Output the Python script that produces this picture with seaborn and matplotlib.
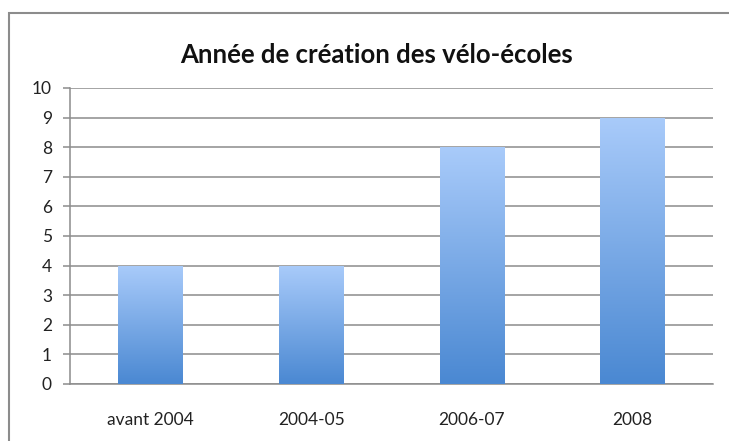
import numpy as np
import pandas as pd
import matplotlib
matplotlib.use("Agg")
import matplotlib.pyplot as plt
import matplotlib.patches as mpatches
from matplotlib.colors import LinearSegmentedColormap
import seaborn as sns

categories = ["avant 2004", "2004-05", "2006-07", "2008"]
counts = [4, 4, 8, 9]
title = "Année de création des vélo-écoles"

df = pd.DataFrame({"periode": categories, "nombre": counts})

sns.set_theme(style="white")
plt.rcParams["font.family"] = ["Lato", "DejaVu Sans"]

fig = plt.figure(figsize=(7.29, 4.41), dpi=100)
ax = fig.add_axes([70 / 729, 1 - 384 / 441, (713 - 70) / 729, (384 - 88) / 441])

sns.barplot(data=df, x="periode", y="nombre", ax=ax, width=0.4, color="#6aa0e0")

# gradient fill for each bar
cmap = LinearSegmentedColormap.from_list("grad", ["#4a88d2", "#a9cbfa"])
grad = np.linspace(0, 1, 256).reshape(-1, 1)
for bar in ax.patches:
    x0, y0 = bar.get_x(), bar.get_y()
    w, h = bar.get_width(), bar.get_height()
    im = ax.imshow(grad, cmap=cmap, origin="lower", aspect="auto",
                   extent=[x0, x0 + w, y0, y0 + h], zorder=3)
    im.set_clip_path(bar)
    bar.set_alpha(0)

ax.set_xlim(-0.5, 3.5)
ax.set_ylim(0, 10)
ax.set_yticks(range(0, 11))
ax.yaxis.grid(True, color="#8c8c8c", linewidth=1.1)
ax.set_axisbelow(True)
ax.set_xlabel("")
ax.set_ylabel("")

for s in ["top", "right"]:
    ax.spines[s].set_visible(False)
for s in ["left", "bottom"]:
    ax.spines[s].set_color("#8c8c8c")
    ax.spines[s].set_linewidth(1.1)

ax.set_xticks(np.arange(-0.5, 4, 1), minor=True)
ax.tick_params(axis="x", which="major", length=0, pad=20, labelsize=12.5, colors="#222222")
ax.tick_params(axis="x", which="minor", length=5, width=1.1, color="#8c8c8c", direction="out")
ax.tick_params(axis="y", length=5, width=1.1, color="#8c8c8c", direction="out",
               labelsize=12.5, labelcolor="#222222", pad=8)
ax.tick_params(axis="both", bottom=True, left=True)
ax.tick_params(axis="x", which="major", bottom=False)

fig.text(377 / 729, 1 - 55 / 441, title, ha="center", va="center",
         fontsize=18.5, fontweight="bold", color="#111111")

# outer chart frame (runs off the right and bottom edges)
frame = mpatches.Rectangle((9 / 729, -0.05), 1.1, 1 - 13 / 441 + 0.05,
                           transform=fig.transFigure, fill=False,
                           edgecolor="#8c8c8c", linewidth=1.5)
fig.patches.append(frame)

fig.savefig("out.png", dpi=100)
